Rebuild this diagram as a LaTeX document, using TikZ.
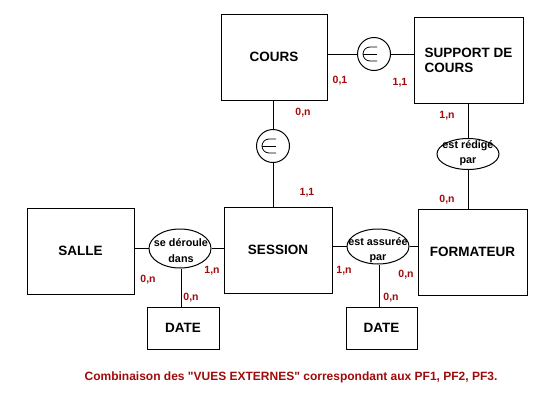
\documentclass[tikz,border=0pt]{standalone}
\usepackage{fontspec}
\setmainfont{Liberation Sans}[Ligatures=TeXOff]
\usetikzlibrary{shapes.geometric}
\definecolor{cardred}{RGB}{160,10,10}
\tikzset{
  x=1pt,y=-1pt,
  every path/.style={line width=1pt},
  entity/.style={draw,rectangle,inner sep=0pt,font=\fontsize{13.5}{15}\selectfont\bfseries,align=left},
  relshape/.style={draw,ellipse,inner sep=0pt,minimum width=62pt},
  reltext/.style={inner sep=0pt,align=center,font=\fontsize{10.8}{15.5}\selectfont\bfseries},
  incl/.style={draw,circle,inner sep=0pt,minimum size=33pt},
  card/.style={inner sep=0pt,text=cardred,font=\fontsize{10.5}{12}\selectfont\bfseries},
}
\begin{document}
\begin{tikzpicture}
\useasboundingbox (0,0) rectangle (550,400);
% entities
\node[entity,minimum width=106pt,minimum height=86pt] (cours) at (274,57) {COURS};
\node[entity,minimum width=109pt,minimum height=86pt] (support) at (468.5,60) {SUPPORT DE\\COURS};
\node[entity,minimum width=107pt,minimum height=86pt] (salle) at (80.5,251) {SALLE};
\node[entity,minimum width=108pt,minimum height=86pt] (session) at (278,250) {SESSION};
\node[entity,minimum width=109pt,minimum height=86pt] (formateur) at (472.5,252) {FORMATEUR};
\node[entity,minimum width=72pt,minimum height=42pt] (date1) at (183,328) {DATE};
\node[entity,minimum width=71pt,minimum height=42pt] (date2) at (381.5,328) {DATE};
% inclusion circles
\node[incl] (c1) at (374,54) {};
\node[incl] (c2) at (273,146) {};
\foreach \c in {c1,c2}{
  \draw[shift={(\c)},line width=0.8pt] (3,7) -- (-4,7) arc[start angle=270,end angle=90,radius=7pt] -- (3,-7);
  \draw[shift={(\c)},line width=0.8pt] (-11,0) -- (3,0);
}
% relationships
\node[relshape,minimum height=39pt] (e1) at (180,248.5) {};
\node[reltext] (e1t) at (181,250.5) {se déroule\\dans};
\node[relshape,minimum height=35pt] (e2) at (378,246.5) {};
\node[reltext] (e2t) at (378,250) {est assurée\\par};
\node[relshape,minimum height=31pt] (e3) at (468,154) {};
\node[reltext] (e3t) at (468,153) {est rédigé\\par};
% connectors
\draw (c1.west) -- (c1.west -| cours.east);
\draw (c1.east) -- (c1.east -| support.west);
\draw (c2.north) -- (c2.north |- cours.south);
\draw (c2.south) -- (c2.south |- session.north);
\draw (e3.north) -- (e3.north |- support.south);
\draw (e3.south) -- (e3.south |- formateur.north);
\draw (e1.west) -- (e1.west -| salle.east);
\draw (e1.east) -- (e1.east -| session.west);
\draw (e2.west) -- (e2.west -| session.east);
\draw (e2.east) -- (e2.east -| formateur.west);
\draw ([xshift=1pt]e1.south) -- ([xshift=1pt]e1.south |- date1.north);
\draw ([xshift=1pt]e2.south) -- ([xshift=1pt]e2.south |- date2.north);
% cardinalities
\node[card] (k1) at (340,81) {0,1};
\node[card] (k2) at (400,83) {1,1};
\node[card] (k3) at (303,113) {0,n};
\node[card] (k4) at (307,193) {1,1};
\node[card] (k5) at (447,116) {1,n};
\node[card] (k6) at (447,200) {0,n};
\node[card] (k7) at (148,280) {0,n};
\node[card] (k8) at (212,271) {1,n};
\node[card] (k9) at (191,298) {0,n};
\node[card] (k10) at (344,271) {1,n};
\node[card] (k11) at (406,275) {0,n};
\node[card] (k12) at (391,298) {0,n};
% caption
\node[inner sep=0pt,text=cardred,font=\fontsize{12}{14}\selectfont\bfseries] (caption) at (291,377) {Combinaison des "VUES EXTERNES" correspondant aux PF1, PF2, PF3.};
\end{tikzpicture}
\end{document}
